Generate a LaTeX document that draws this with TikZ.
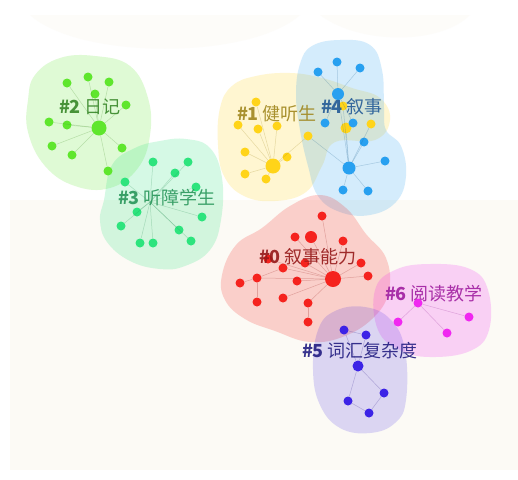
\documentclass[tikz,border=0pt]{standalone}
\usepackage{fontspec}
\newfontfamily\cjk{Noto Sans CJK SC}
\begin{document}
\begin{tikzpicture}[x=1pt,y=-1pt,
  blob/.style={fill=#1, fill opacity=0.2, draw=none},
  dot/.style={circle, fill=#1, draw=none, inner sep=0pt, minimum size=9pt},
  bigdot/.style={circle, fill=#1, draw=none, inner sep=0pt, minimum size=15pt},
  edge/.style={draw=#1, draw opacity=0.25, line width=0.5pt},
  lab/.style={text=#1, font=\cjk\fontsize{18}{20}\selectfont, inner sep=0pt, text opacity=0.9}]
\definecolor{cg}{RGB}{95,230,45}
\definecolor{cm}{RGB}{45,228,125}
\definecolor{cy}{RGB}{255,212,25}
\definecolor{cb}{RGB}{40,160,240}
\definecolor{cr}{RGB}{245,35,30}
\definecolor{cp}{RGB}{240,40,240}
\definecolor{cv}{RGB}{60,35,230}
\definecolor{tg}{RGB}{55,135,40}
\definecolor{tm}{RGB}{40,150,90}
\definecolor{ty}{RGB}{160,135,30}
\definecolor{tb}{RGB}{35,90,150}
\definecolor{tr}{RGB}{150,25,25}
\definecolor{tp}{RGB}{160,30,160}
\definecolor{tv}{RGB}{35,30,130}
\definecolor{cream}{RGB}{252,250,245}
% background
\path[fill=white] (0,0) rectangle (518,479);
\useasboundingbox (0,0) rectangle (518,479);
\fill[cream] (10,200) rectangle (518,470);
\fill[cream, opacity=0.6] (30,15) .. controls (80,60) and (250,60) .. (300,15) -- cycle;
\fill[cream, opacity=0.6] (320,15) .. controls (360,45) and (440,45) .. (470,15) -- cycle;
% blobs
\path[blob=cg] plot[smooth cycle, tension=0.7] coordinates {(35,75) (60,58) (95,56) (130,66) (148,98) (150,135) (138,168) (110,188) (75,186) (45,166) (28,132) (28,100)};
\path[blob=cm] plot[smooth cycle, tension=0.7] coordinates {(104,200) (112,165) (135,148) (160,141) (186,139) (210,148) (222,178) (221,220) (210,250) (185,266) (160,269) (130,261) (107,242) (100,220)};
\path[blob=cy] plot[smooth cycle, tension=0.7] coordinates {(220,108) (232,86) (256,76) (290,73) (322,78) (352,88) (380,98) (390,120) (375,140) (335,142) (322,166) (306,192) (275,201) (244,196) (224,176) (218,145)};
\path[blob=cb] plot[smooth cycle, tension=0.7] coordinates {(300,64) (312,46) (340,40) (370,45) (382,70) (384,108) (386,130) (401,146) (406,176) (396,202) (370,215) (340,212) (318,196) (308,166) (300,130) (296,95)};
\path[blob=cr] plot[smooth cycle, tension=0.7] coordinates {(222,275) (236,245) (262,228) (290,206) (320,195) (346,208) (366,234) (386,258) (389,290) (375,316) (345,336) (310,342) (275,331) (245,319) (225,300)};
\path[blob=cp] plot[smooth cycle, tension=0.7] coordinates {(375,290) (395,270) (430,264) (470,269) (488,290) (489,330) (470,351) (430,357) (400,350) (378,330)};
\path[blob=cv, fill opacity=0.17] plot[smooth cycle, tension=0.7] coordinates {(318,330) (335,311) (365,307) (391,320) (405,350) (406,400) (395,423) (370,433) (340,428) (320,405) (313,370)};
% cluster #2
\node[bigdot=cg] (g0) at (99,128) {};
\foreach \n/\p in {1/{67,83},2/{88,77},3/{109,82},4/{95,94},5/{126,105},6/{49,122},7/{67,125},8/{52,146},9/{72,155},10/{122,148},11/{108,171}}
  \node[dot=cg] (g\n) at (\p) {};
\foreach \n in {1,...,11} \draw[edge=cg!60!black] (g0) -- (g\n);
% cluster #3
\coordinate (m0) at (150,202);
\foreach \n/\p in {1/{153,162},2/{188,162},3/{175,173},4/{125,182},5/{196,187},6/{137,212},7/{202,217},8/{121,226},9/{179,230},10/{140,243},11/{153,243},12/{191,241}}
  \node[dot=cm] (m\n) at (\p) {};
\foreach \n in {1,...,12} \draw[edge=cm!60!black] (m0) -- (m\n);
% cluster #1
\node[bigdot=cy] (y0) at (273,166) {};
\foreach \n/\p in {1/{256,102},2/{238,125},3/{258,129},4/{277,126},5/{308,136},6/{245,152},7/{287,157},8/{245,174},9/{266,179},10/{343,106},11/{371,124}}
  \node[dot=cy] (y\n) at (\p) {};
\node[bigdot=cy, minimum size=11pt] (y12) at (346,128) {};
\foreach \n in {1,...,9} \draw[edge=cy!60!black] (y0) -- (y\n);
% cluster #4
\node[bigdot=cb, minimum size=12pt] (b0) at (338,94) {};
\node[bigdot=cb, minimum size=13pt] (b9) at (349,168) {};
\foreach \n/\p in {1/{337,62},2/{318,72},3/{360,68},4/{325,123},5/{353,123},6/{364,142},7/{385,161},8/{343,190},10/{368,191}}
  \node[dot=cb] (b\n) at (\p) {};
\foreach \n in {1,...,5} \draw[edge=cb!60!black] (b0) -- (b\n);
\foreach \n in {0,6,7,8,10} \draw[edge=cb!60!black] (b9) -- (b\n);
\foreach \n in {5,10,11,12} \draw[edge=cb!60!black] (b9) -- (y\n);
% cluster #0
\node[bigdot=cr, minimum size=16pt] (r0) at (333,279) {};
\foreach \n/\p in {1/{322,216},2/{295,237},4/{343,241},5/{268,259},6/{305,263},7/{361,263},8/{283,268},9/{368,276},10/{240,283},11/{257,278},12/{297,281},13/{257,302},14/{283,298},15/{308,303},16/{308,322}}
  \node[dot=cr] (r\n) at (\p) {};
\node[bigdot=cr, minimum size=12pt] (r3) at (311,237) {};
\foreach \n in {1,...,9,11,12,14,15} \draw[edge=cr!60!black] (r0) -- (r\n);
\draw[edge=cr!60!black] (r11) -- (r10);
\draw[edge=cr!60!black] (r11) -- (r13);
\draw[edge=cr!60!black] (r15) -- (r16);
\draw[edge=cr!60!black] (r8) -- (r11);
% cluster #6
\node[dot=cp] (p0) at (418,303) {};
\foreach \n/\p in {1/{398,322},2/{469,317},3/{447,333}}
  \node[dot=cp] (p\n) at (\p) {};
\foreach \n in {1,2,3} \draw[edge=cp!60!black] (p0) -- (p\n);
% cluster #5
\node[bigdot=cv, minimum size=11pt] (v0) at (358,366) {};
\foreach \n/\p in {1/{344,330},2/{366,335},3/{384,393},4/{348,401},5/{369,413}}
  \node[dot=cv] (v\n) at (\p) {};
\foreach \n in {1,...,4} \draw[edge=cv!60!black] (v0) -- (v\n);
\draw[edge=cv!60!black] (v1) -- (v2);
\draw[edge=cv!60!black] (v4) -- (v5);
\draw[edge=cv!60!black] (v5) -- (v3);
% labels
\node[lab=tg] (l2) at (90,107) {\textbf{\#2} 日记};
\node[lab=tm] (l3) at (167,198) {\textbf{\#3} 听障学生};
\node[lab=ty] (l1) at (277,114) {\textbf{\#1} 健听生};
\node[lab=tb] (l4) at (352,107) {\textbf{\#4} 叙事};
\node[lab=tr] (l0) at (308,257) {\textbf{\#0} 叙事能力};
\node[lab=tp] (l6) at (434,294) {\textbf{\#6} 阅读教学};
\node[lab=tv] (l5) at (360,351) {\textbf{\#5} 词汇复杂度};
\end{tikzpicture}
\end{document}
